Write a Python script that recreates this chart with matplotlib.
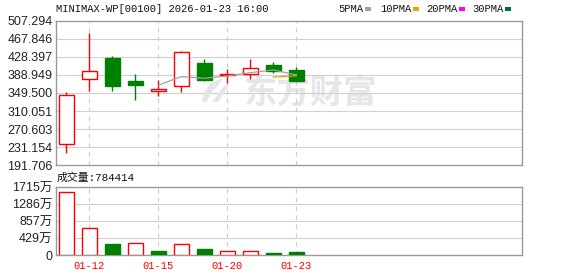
import matplotlib
matplotlib.use("Agg")
import matplotlib.pyplot as plt
from matplotlib.patches import Rectangle, Polygon

# ---------------- data ----------------
dates = ['01-09', '01-12', '01-13', '01-14', '01-15', '01-16', '01-19', '01-20', '01-21', '01-22', '01-23']
opens = [237.1, 379.5, 426.2, 375.8, 353.2, 365.6, 415.3, 389.0, 390.4, 410.9, 399.9]
highs = [351.7, 481.7, 430.6, 391.1, 378.0, 441.5, 424.0, 402.1, 423.3, 417.4, 406.5]
lows = [218.7, 353.2, 354.6, 334.2, 343.6, 352.4, 375.8, 372.1, 380.9, 394.0, 375.8]
closes = [344.5, 397.0, 365.6, 367.8, 358.3, 438.6, 378.7, 391.1, 403.6, 397.0, 375.8]
volumes = [1599, 670, 276, 301, 100, 268, 151, 92, 92, 50, 78.44]  # unit: 万
ma5_idx = [4, 5, 6, 7, 8, 9, 10]
ma5 = [366.6, 385.5, 381.8, 386.9, 394.1, 400.0, 389.2]
ma10_idx = [9, 10]
ma10 = [384.2, 387.4]
price_ticks = [507.294, 467.846, 428.397, 388.949, 349.500, 310.051, 270.603, 231.154, 191.706]
price_labels = ['507.294', '467.846', '428.397', '388.949', '349.500', '310.051', '270.603', '231.154', '191.706']
vol_ticks = [0, 429, 857, 1286, 1715]
vol_labels = ['0', '429万', '857万', '1286万', '1715万']
xtick_idx = [1, 4, 7, 10]
title = 'MINIMAX-WP[00100] 2026-01-23 16:00'
vol_text = '成交量:784414'
legend_names = ['5PMA', '10PMA', '20PMA', '30PMA']
legend_colors = ['#a0a0a0', '#f0a000', '#ff00ff', '#006f2f']

W, H = 578, 276
fig = plt.figure(figsize=(W / 100, H / 100), dpi=100)

def ax_rect(l, t, r, b):
    return [l / W, (H - b) / H, (r - l) / W, (b - t) / H]

def fp(x, y):
    return (x / W, 1 - y / H)

RED = '#ff0000'
GREEN = '#008000'
BORDER = '#999999'
GRID = '#d0d0d0'
WM = '#e6e6ea'
XLIM = (-0.45, 19.81)
BW = 0.68

ax = fig.add_axes(ax_rect(56, 21, 522, 165))
axv = fig.add_axes(ax_rect(56, 187, 522, 255))

# watermark
ax.text(0.545, 0.49, '东方财富', transform=ax.transAxes, ha='center', va='center',
        fontsize=24, fontweight='bold', color=WM, family=['Noto Sans CJK SC'], zorder=0)
leaf = Polygon([fp(202, 101), fp(204, 92), fp(211, 83), fp(223, 78), fp(218, 86),
                fp(211, 93), fp(206, 103)], closed=True, transform=fig.transFigure,
               facecolor=WM, edgecolor='none', zorder=0)
stroke = Polygon([fp(212, 102), fp(224, 86), fp(230, 84), fp(218, 102)], closed=True,
                 transform=fig.transFigure, facecolor=WM, edgecolor='none', zorder=0)
fig.patches.extend([leaf, stroke])
ax.patch.set_alpha(0)
fig.patches[0].set_zorder(0)

for a in (ax, axv):
    a.set_xlim(*XLIM)
    for s in a.spines.values():
        s.set_color(BORDER)
        s.set_linewidth(1.0)
    for xi in xtick_idx:
        a.axvline(xi, color='#cccccc', lw=0.8, ls=(0, (4, 4)), zorder=0.5)
    a.tick_params(length=0, pad=2.5, labelcolor='#222222')

# price panel
ax.set_ylim(price_ticks[-1], price_ticks[0])
ax.set_yticks(price_ticks)
ax.set_yticklabels(price_labels, family='Liberation Sans', fontsize=9)
for t in price_ticks[1:-1]:
    ax.axhline(t, color=GRID, lw=0.8, zorder=0.5)
ax.set_xticks([])

for i in range(len(dates)):
    o, h, l, c = opens[i], highs[i], lows[i], closes[i]
    up = c >= o
    col = RED if up else GREEN
    ax.vlines(i, l, h, color=col, lw=1.0, zorder=2)
    bottom = min(o, c)
    height = max(abs(c - o), 0.8)
    ax.bar(i, height, bottom=bottom, width=BW,
           facecolor='white' if up else GREEN, edgecolor=col, lw=1.0, zorder=3)

ax.plot(ma5_idx, ma5, color='#a0a0a0', lw=0.9, zorder=4)
ax.plot(ma10_idx, ma10, color='#f0a000', lw=0.9, zorder=4)

# volume panel
axv.set_ylim(0, vol_ticks[-1])
axv.set_yticks(vol_ticks)
axv.set_yticklabels(vol_labels, family=['Liberation Sans', 'Noto Sans CJK SC'], fontsize=9)
for t in vol_ticks[1:-1]:
    axv.axhline(t, color=GRID, lw=0.8, zorder=0.5)
for i in range(len(dates)):
    up = (closes[i] >= opens[i]) if i == 0 else (closes[i] >= closes[i - 1])
    col = RED if up else GREEN
    axv.bar(i, volumes[i], width=BW, facecolor='white' if up else GREEN,
            edgecolor=col, lw=1.0, zorder=3)
axv.set_xticks(xtick_idx)
axv.set_xticklabels([dates[i] for i in xtick_idx], family='Liberation Mono',
                    fontsize=7.6, color=RED)
axv.tick_params(axis='x', pad=4, labelcolor=RED)

# texts
fig.text(56 / W, 1 - 9 / H, title, family='Liberation Mono', fontsize=7.6,
         ha='left', va='center', color='#111111')
fig.text(57 / W, 1 - 178 / H, vol_text, family=['Liberation Mono', 'Noto Sans CJK SC'],
         fontsize=7.8, ha='left', va='center', color='#111111')

lx = [338, 380, 426, 472]
sq = [365, 413, 459, 505]
for name, x0, s0, colr in zip(legend_names, lx, sq, legend_colors):
    fig.text(x0 / W, 1 - 9 / H, name, family='Liberation Mono', fontsize=7.6,
             ha='left', va='center', color='#111111')
    fig.patches.append(Rectangle((s0 / W, 1 - 11 / H), 6 / W, 4 / H,
                                 transform=fig.transFigure, facecolor=colr,
                                 edgecolor='none'))

fig.savefig('out.png', dpi=100)
